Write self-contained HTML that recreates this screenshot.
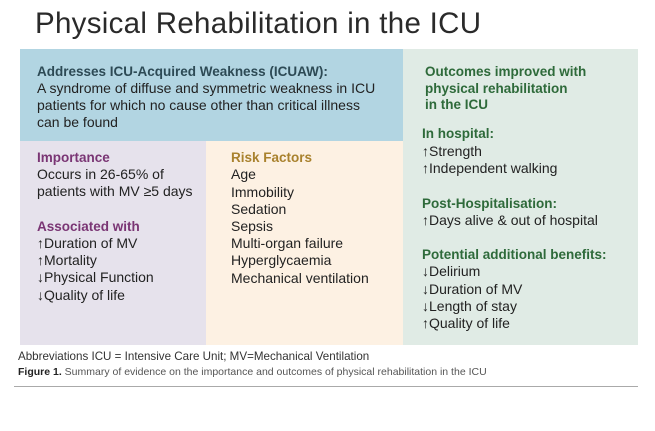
<!DOCTYPE html>
<html><head><meta charset="utf-8"><style>
body{margin:0;width:655px;height:431px;background:#fff;position:relative;overflow:hidden;font-family:"Liberation Sans","DejaVu Sans",sans-serif;}
.b{position:absolute}
.t{position:absolute;font-size:14px;line-height:17px;white-space:nowrap;color:#222}
.h{font-weight:bold;font-size:13.5px}
</style></head><body>
<div class="t" style="left:35px;top:6px;font-size:29.5px;line-height:36px;color:#2a2a2a;letter-spacing:0.3px">Physical Rehabilitation in the ICU</div>
<div class="b" style="left:20px;top:49px;width:383px;height:92px;background:#b2d5e2"></div>
<div class="b" style="left:20px;top:141px;width:186px;height:204px;background:#e6e2ec"></div>
<div class="b" style="left:206px;top:141px;width:197px;height:204px;background:#fdf1e3"></div>
<div class="b" style="left:403px;top:49px;width:235px;height:296px;background:#e0ebe5"></div>
<div class="b" style="left:14px;top:386px;width:624px;height:1px;background:#aaa"></div>

<div class="t h" style="left:37px;top:63px;color:#2d4a55">Addresses ICU-Acquired Weakness (ICUAW):</div>
<div class="t" style="left:37px;top:80px">A syndrome of diffuse and symmetric weakness in ICU</div>
<div class="t" style="left:37px;top:97px">patients for which no cause other than critical illness</div>
<div class="t" style="left:37px;top:114px">can be found</div>

<div class="t h" style="left:37px;top:149px;color:#7a3574">Importance</div>
<div class="t" style="left:37px;top:166px">Occurs in 26-65% of</div>
<div class="t" style="left:37px;top:183px">patients with MV ≥5 days</div>
<div class="t h" style="left:37px;top:218px;color:#7a3574">Associated with</div>
<div class="t" style="left:37px;top:235px">↑Duration of MV</div>
<div class="t" style="left:37px;top:252px">↑Mortality</div>
<div class="t" style="left:37px;top:269px">↓Physical Function</div>
<div class="t" style="left:37px;top:287px">↓Quality of life</div>

<div class="t h" style="left:231px;top:149px;color:#a9822e">Risk Factors</div>
<div class="t" style="left:231px;top:166px">Age</div>
<div class="t" style="left:231px;top:184px">Immobility</div>
<div class="t" style="left:231px;top:201px">Sedation</div>
<div class="t" style="left:231px;top:218px">Sepsis</div>
<div class="t" style="left:231px;top:235px">Multi-organ failure</div>
<div class="t" style="left:231px;top:252px">Hyperglycaemia</div>
<div class="t" style="left:231px;top:270px">Mechanical ventilation</div>

<div class="t h" style="left:425px;top:63px;color:#2e6a3a">Outcomes improved with</div>
<div class="t h" style="left:425px;top:80px;color:#2e6a3a">physical rehabilitation</div>
<div class="t h" style="left:425px;top:96px;color:#2e6a3a">in the ICU</div>
<div class="t h" style="left:422px;top:125px;color:#2e6a3a">In hospital:</div>
<div class="t" style="left:422px;top:143px">↑Strength</div>
<div class="t" style="left:422px;top:160px">↑Independent walking</div>
<div class="t h" style="left:422px;top:195px;color:#2e6a3a">Post-Hospitalisation:</div>
<div class="t" style="left:422px;top:212px">↑Days alive &amp; out of hospital</div>
<div class="t h" style="left:422px;top:246px;color:#2e6a3a">Potential additional benefits:</div>
<div class="t" style="left:422px;top:263px">↓Delirium</div>
<div class="t" style="left:422px;top:281px">↓Duration of MV</div>
<div class="t" style="left:422px;top:298px">↓Length of stay</div>
<div class="t" style="left:422px;top:315px">↑Quality of life</div>

<div class="t" style="left:18px;top:350px;font-size:11.6px;line-height:14px;color:#333">Abbreviations ICU = Intensive Care Unit; MV=Mechanical Ventilation</div>
<div class="t" style="left:18px;top:366px;font-size:10.5px;line-height:13px;color:#555"><b style="color:#222">Figure 1.</b> Summary of evidence on the importance and outcomes of physical rehabilitation in the ICU</div>
</body></html>
